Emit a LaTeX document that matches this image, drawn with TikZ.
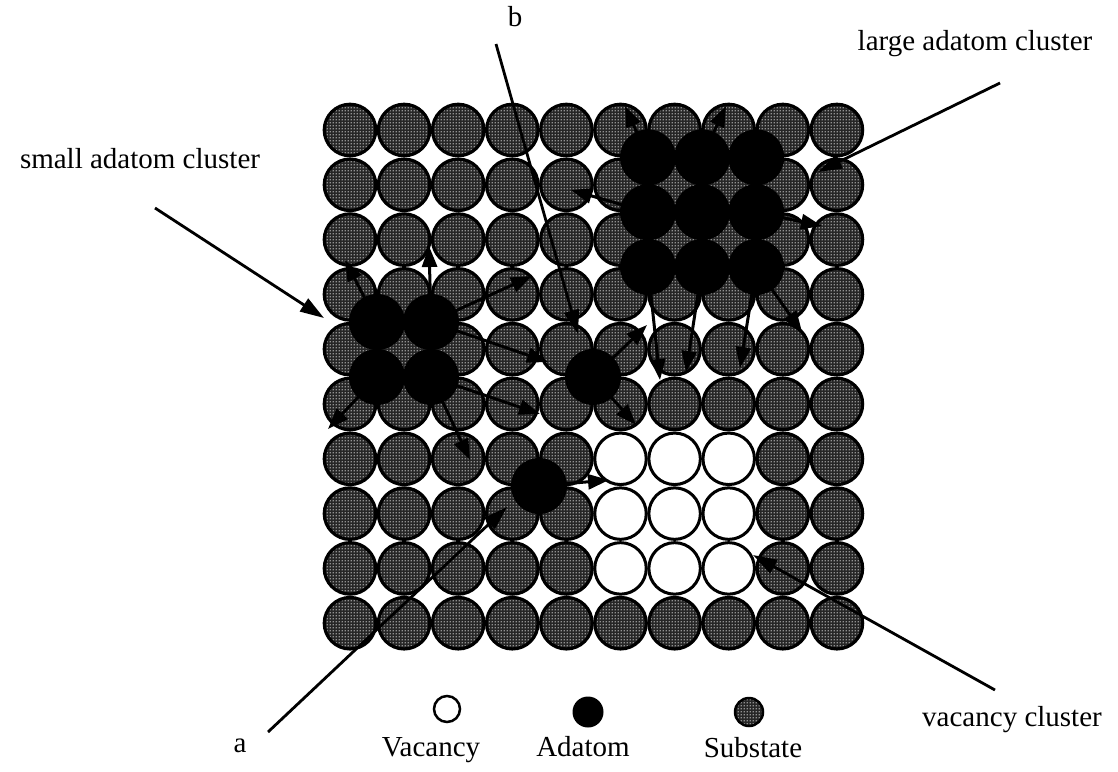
\documentclass[tikz,border=0pt]{standalone}
\usepackage{fontspec}
\setmainfont{Liberation Serif}
\usetikzlibrary{arrows.meta,patterns}
% halftone-like stipple used for the substrate atoms
\pgfdeclarepatternformonly{stipple}{\pgfqpoint{-1pt}{-1pt}}{\pgfqpoint{2pt}{2pt}}{\pgfqpoint{3pt}{3pt}}{%
  \pgfpathcircle{\pgfqpoint{0.5pt}{0.5pt}}{0.8pt}\pgfusepath{fill}}
\begin{document}
\begin{tikzpicture}[x=1pt,y=-1pt,
  subbase/.style={circle,fill=black!85,minimum size=51.5pt,inner sep=0pt},
  substrate/.style={circle,draw=black,line width=3.2pt,pattern=stipple,pattern color=white,minimum size=51.5pt,inner sep=0pt},
  vacancy/.style={circle,draw=black,line width=3pt,fill=white,minimum size=51.5pt,inner sep=0pt},
  adatom/.style={circle,fill=black,minimum size=56pt,inner sep=0pt},
  hop/.style={line width=3pt,-{Triangle[length=21pt,width=15pt]},shorten <=-12pt},
  pointer/.style={line width=2.8pt,-{Triangle[length=24pt,width=15pt]}},
  txt/.style={font=\fontsize{29}{34}\selectfont,inner sep=0pt,anchor=base},
  keysub/.style={circle,draw=black,line width=2.5pt,pattern=stipple,pattern color=white,minimum size=28pt,inner sep=0pt},
  keyvac/.style={circle,draw=black,line width=2.5pt,fill=white,minimum size=26pt,inner sep=0pt},
  keyad/.style={circle,fill=black,minimum size=31pt,inner sep=0pt},
]
\useasboundingbox (0,0) rectangle (1118,771);

% substrate lattice with a 3x3 vacancy cluster
\foreach \i in {0,...,9}{
  \foreach \j in {0,...,9}{
    \pgfmathsetmacro{\xx}{350+54.1*\i}
    \pgfmathsetmacro{\yy}{130+54.8*\j}
    \pgfmathtruncatemacro{\isvac}{(\i>4)&&(\i<8)&&(\j>5)&&(\j<9)}
    \ifnum\isvac=1
      \node[vacancy] (s-\i-\j) at (\xx,\yy) {};
    \else
      \node[subbase] at (\xx,\yy) {};
      \node[substrate] (s-\i-\j) at (\xx,\yy) {};
    \fi
  }
}

% large adatom cluster on hollow sites
\foreach \c in {0,1,2}{
  \foreach \r in {0,1,2}{
    \node[adatom] (la-\r-\c) at ({648+54.1*\c},{157.4+54.8*\r}) {};
  }
}
% small adatom cluster
\node[adatom] (sa1) at (377,322) {};
\node[adatom] (sa2) at (431,322) {};
\node[adatom] (sa3) at (377,377) {};
\node[adatom] (sa4) at (431,377) {};
% single adatoms
\node[adatom] (ab) at (593,377) {};
\node[adatom] (aa) at (539,486) {};

% hop targets
\coordinate (t1) at (345,260);
\coordinate (t2) at (429,246);
\coordinate (t3) at (532,276);
\coordinate (t4) at (548,362);
\coordinate (t5) at (540,414);
\coordinate (t6) at (470,460);
\coordinate (t7) at (328,429);
\coordinate (tb1) at (647,325);
\coordinate (tb2) at (636,425);
\coordinate (ta1) at (609,480);
\coordinate (tl1) at (625,106);
\coordinate (tl2) at (726,106);
\coordinate (tl3) at (571,190);
\coordinate (tl4) at (822,226);
\coordinate (tl5) at (802,332);
\coordinate (tl6) at (740,368);
\coordinate (tl7) at (686,372);
\coordinate (tl8) at (660,380);

% hops out of the small cluster
\draw[hop] (sa1) -- (t1);
\draw[hop] (sa2) -- (t2);
\draw[hop] (sa2) -- (t3);
\draw[hop] (sa2) -- (t4);
\draw[hop] (sa4) -- (t5);
\draw[hop] (sa4) -- (t6);
\draw[hop] (sa3) -- (t7);
% hops of the single adatoms
\draw[hop] (ab) -- (tb1);
\draw[hop] (ab) -- (tb2);
\draw[hop] (aa) -- (ta1);
% hops out of the large cluster
\draw[hop] (la-0-0) -- (tl1);
\draw[hop] (la-0-1) -- (tl2);
\draw[hop] (la-1-0) -- (tl3);
\draw[hop] (la-1-2) -- (tl4);
\draw[hop] (la-2-2) -- (tl5);
\draw[hop] (la-2-2) -- (tl6);
\draw[hop] (la-2-1) -- (tl7);
\draw[hop] (la-2-0) -- (tl8);

% labels
\node[txt] (lb) at (515,27) {b};
\node[txt] (lla) at (975,50) {large adatom cluster};
\node[txt] (lsa) at (140,168) {small adatom cluster};
\node[txt] (la) at (240,752) {a};
\node[txt] (lvc) at (1012,726) {vacancy cluster};

\coordinate (pb0) at (496,44);
\coordinate (pb1) at (578,334);
\coordinate (pl0) at (1000,83);
\coordinate (pl1) at (818,172);
\coordinate (ps0) at (155,208);
\coordinate (ps1) at (324,318);
\coordinate (pa0) at (268,732);
\coordinate (pa1) at (507,507);
\coordinate (pv0) at (995,690);
\coordinate (pv1) at (753,555);

\draw[pointer] (pb0) -- (pb1);
\draw[pointer] (pl0) -- (pl1);
\draw[pointer] (ps0) -- (ps1);
\draw[pointer] (pa0) -- (pa1);
\draw[pointer] (pv0) -- (pv1);

% key
\node[keyvac] (kv) at (447,709) {};
\node[keyad] (ka) at (588,712) {};
\node[subbase,minimum size=28pt] at (749,712) {};
\node[keysub] (ks) at (749,712) {};
\node[txt] (kvt) at (431,756) {Vacancy};
\node[txt] (kat) at (583,756) {Adatom};
\node[txt] (kst) at (753,757) {Substate};
\end{tikzpicture}
\end{document}
